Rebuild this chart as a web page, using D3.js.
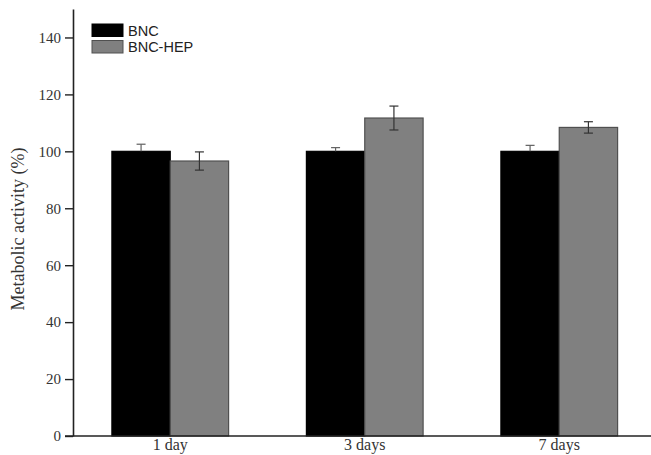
<!DOCTYPE html>
<html>
<head>
<meta charset="utf-8">
<script src="https://cdn.jsdelivr.net/npm/d3@7"></script>
<style>
  html, body { margin: 0; padding: 0; background: #fff; }
  svg { display: block; }
</style>
</head>
<body>
<svg id="chart" width="651" height="455"></svg>
<script>
// Metabolic activity of cells on BNC and BNC-HEP over time
const categories = ["1 day", "3 days", "7 days"];
const seriesNames = ["BNC", "BNC-HEP"];
const bncValues = [100, 100, 100];
const bncErrors = [2.5, 1.3, 2.1];
const hepValues = [96.6, 111.7, 108.4];
const hepErrors = [3.2, 4.2, 2.0];
const yTicks = [0, 20, 40, 60, 80, 100, 120, 140];

const colors = { "BNC": "#000000", "BNC-HEP": "#808080" };
const strokes = { "BNC": "#000000", "BNC-HEP": "#505050" };

const svg = d3.select("#chart");
const margin = { left: 73, top: 9, bottom: 436 };
const plotRight = 656.5;

const x = d3.scaleBand().domain(categories).range([margin.left, plotRight]).paddingInner(0.4).paddingOuter(0.2);
const x1 = d3.scaleBand().domain(seriesNames).range([0, x.bandwidth()]);
const y = d3.scaleLinear().domain([0, 150]).range([margin.bottom, margin.top]);

const rows = categories.map((c, i) => ({
  cat: c,
  items: [
    { name: "BNC", value: bncValues[i], err: bncErrors[i] },
    { name: "BNC-HEP", value: hepValues[i], err: hepErrors[i] }
  ]
}));

// bars
const groups = svg.append("g").selectAll("g").data(rows).join("g")
  .attr("transform", d => `translate(${x(d.cat)},0)`);

groups.selectAll("rect").data(d => d.items).join("rect")
  .attr("x", d => x1(d.name))
  .attr("y", d => y(d.value))
  .attr("width", x1.bandwidth())
  .attr("height", d => y(0) - y(d.value))
  .attr("fill", d => colors[d.name])
  .attr("stroke", d => strokes[d.name])
  .attr("stroke-width", 1.2);

// error bars
const eb = groups.selectAll("g.err").data(d => d.items).join("g").attr("class", "err")
  .attr("stroke", d => d.name === "BNC" ? "#606060" : "#333333")
  .attr("stroke-width", 1.2);
eb.append("line")
  .attr("x1", d => x1(d.name) + x1.bandwidth() / 2)
  .attr("x2", d => x1(d.name) + x1.bandwidth() / 2)
  .attr("y1", d => y(d.value + d.err))
  .attr("y2", d => d.name === "BNC" ? y(d.value) : y(d.value - d.err));
eb.append("line")
  .attr("x1", d => x1(d.name) + x1.bandwidth() / 2 - 4.5)
  .attr("x2", d => x1(d.name) + x1.bandwidth() / 2 + 4.5)
  .attr("y1", d => y(d.value + d.err))
  .attr("y2", d => y(d.value + d.err));
eb.filter(d => d.name !== "BNC").append("line")
  .attr("x1", d => x1(d.name) + x1.bandwidth() / 2 - 4.5)
  .attr("x2", d => x1(d.name) + x1.bandwidth() / 2 + 4.5)
  .attr("y1", d => y(d.value - d.err))
  .attr("y2", d => y(d.value - d.err));

// y axis
const yAxis = svg.append("g")
  .attr("transform", `translate(${margin.left},0)`)
  .call(d3.axisLeft(y).tickValues(yTicks).tickSize(8).tickPadding(4).tickSizeOuter(0));
yAxis.select(".domain").attr("stroke", "#222").attr("stroke-width", 1.6);
yAxis.selectAll(".tick line").attr("stroke", "#222").attr("stroke-width", 1.4);
yAxis.selectAll(".tick text")
  .attr("font-family", "Liberation Serif, Times New Roman, serif")
  .attr("font-size", 15).attr("fill", "#333");

// x axis
const xAxis = svg.append("g")
  .attr("transform", `translate(0,${margin.bottom})`)
  .call(d3.axisBottom(x).tickSize(0).tickPadding(3).tickSizeOuter(0));
xAxis.select(".domain").attr("stroke", "#222").attr("stroke-width", 1.6)
  .attr("d", `M${margin.left - 8},0H${plotRight}`);
xAxis.selectAll(".tick text")
  .attr("font-family", "Liberation Serif, Times New Roman, serif")
  .attr("font-size", 16).attr("fill", "#333");

// y axis title
svg.append("text")
  .attr("transform", `translate(24,229) rotate(-90)`)
  .attr("text-anchor", "middle")
  .attr("font-family", "Liberation Serif, Times New Roman, serif")
  .attr("font-size", 18).attr("fill", "#333")
  .text("Metabolic activity (%)");

// legend
const legend = svg.append("g").attr("transform", "translate(92,24)");
seriesNames.forEach((name, i) => {
  const g = legend.append("g").attr("transform", `translate(0,${i * 16.5})`);
  g.append("rect").attr("width", 31).attr("height", 12.5)
    .attr("fill", colors[name]).attr("stroke", strokes[name]).attr("stroke-width", 1);
  g.append("text").attr("x", 36).attr("y", 11.5)
    .attr("font-family", "Liberation Sans, Arial, sans-serif")
    .attr("font-size", 14.5).attr("fill", "#222")
    .text(name);
});
</script>
</body>
</html>
